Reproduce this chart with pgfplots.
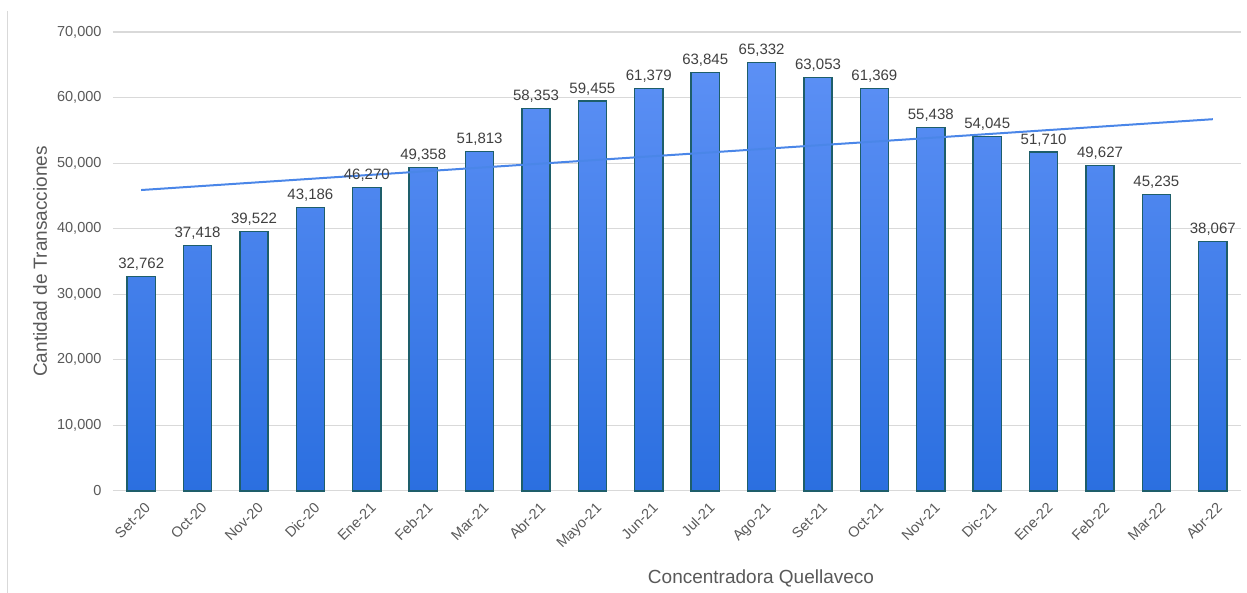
\documentclass[border=0pt]{standalone}
\usepackage{pgfplots}
\pgfplotsset{compat=1.18}
\usepackage{fontspec}
\setmainfont{Liberation Sans}
\definecolor{txtc}{HTML}{595959}
\definecolor{lblc}{HTML}{404040}
\definecolor{gridc}{HTML}{D9D9D9}
\definecolor{edgec}{HTML}{1E5E6A}
\definecolor{barTop}{HTML}{5C90F5}
\definecolor{barMid}{HTML}{3C87FF}
\definecolor{barBot}{HTML}{2B6FE0}
\definecolor{trendc}{HTML}{4A86E8}
\begin{document}
\begin{tikzpicture}
\useasboundingbox (-113pt,-102pt) rectangle (1134pt,491pt);
\draw[color=gridc, line width=1pt] (-105pt,480pt) -- (-105pt,-102pt);
\begin{axis}[
  at={(0,0)}, anchor=south west,
  scale only axis, width=1128pt, height=459pt,
  xmin=-0.5, xmax=19.5, ymin=0, ymax=70000,
  axis lines=left, axis line style={draw=none,-},
  major tick length=0pt, tick style={draw=none},
  ymajorgrids, grid style={color=gridc, line width=1pt},
  ytick={0,10000,20000,30000,40000,50000,60000,70000},
  scaled y ticks=false,
  /pgf/number format/.cd, 1000 sep={,}, fixed, assume math mode=true, /pgfplots/.cd,
  yticklabel style={font=\fontsize{14.5}{17}\selectfont, color=txtc, xshift=-8pt},
  xtick={0,...,19},
  xticklabels={Set-20,Oct-20,Nov-20,Dic-20,Ene-21,Feb-21,Mar-21,Abr-21,Mayo-21,Jun-21,Jul-21,Ago-21,Set-21,Oct-21,Nov-21,Dic-21,Ene-22,Feb-22,Mar-22,Abr-22},
  xticklabel style={font=\fontsize{14.5}{17}\selectfont, color=txtc, rotate=45, anchor=north east, yshift=-6pt, xshift=-2pt},
  xlabel={Concentradora Quellaveco},
  xlabel style={font=\fontsize{19}{22}\selectfont, color=txtc, at={(axis description cs:0.5,0)}, anchor=center, xshift=84pt, yshift=-87pt},
  ylabel={Cantidad de Transacciones},
  ylabel style={font=\fontsize{19}{22}\selectfont, color=txtc, at={(axis description cs:0,0.5)}, anchor=center, yshift=73pt},
  clip=false,
]
\addplot[ybar, bar width=0.5, draw=edgec, line width=1.3pt,
  top color=barTop, middle color=barMid, bottom color=barBot,
  nodes near coords,
  nodes near coords style={font=\fontsize{15}{18}\selectfont, color=lblc, anchor=south, yshift=2pt}]
coordinates {
(0,32762) (1,37418) (2,39522) (3,43186) (4,46270) (5,49358) (6,51813) (7,58353) (8,59455) (9,61379)
(10,63845) (11,65332) (12,63053) (13,61369) (14,55438) (15,54045) (16,51710) (17,49627) (18,45235) (19,38067)
};
\addplot[color=trendc, line width=2pt, no marks] coordinates {(0,45900) (19,56700)};
\end{axis}
\end{tikzpicture}
\end{document}
